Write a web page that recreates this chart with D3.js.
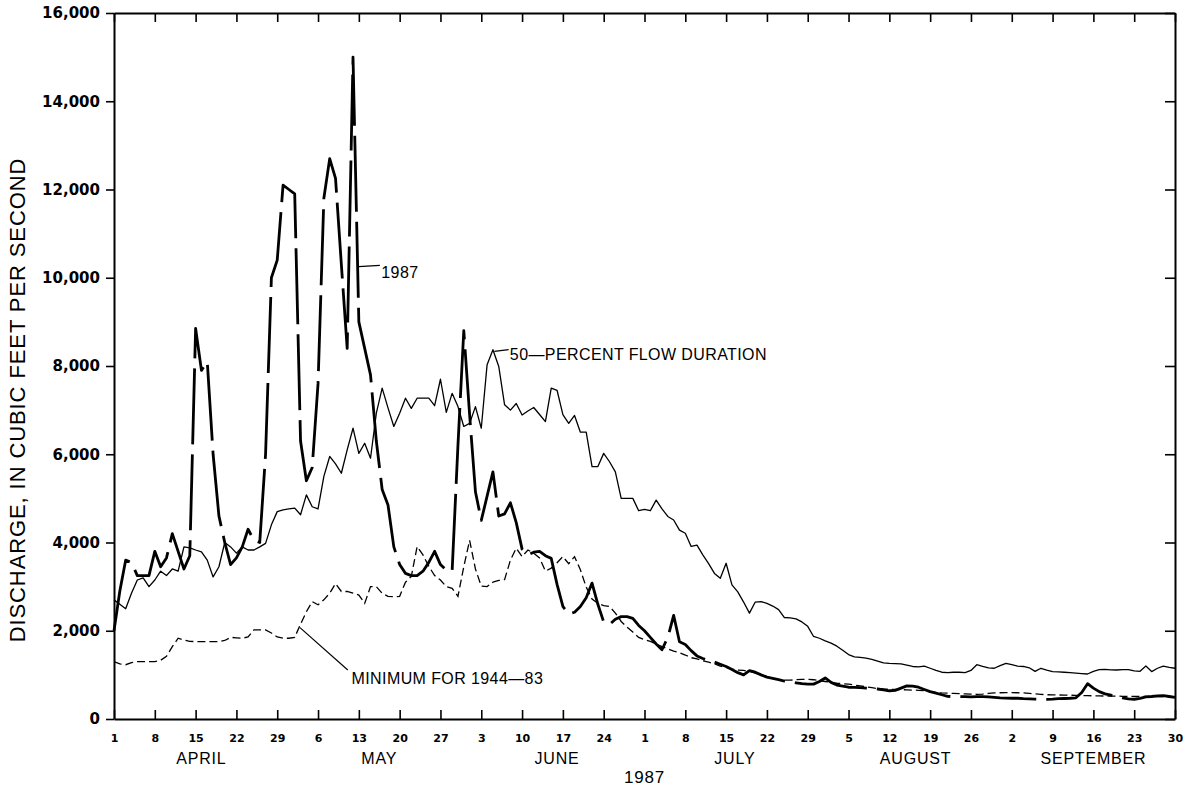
<!DOCTYPE html>
<html>
<head>
<meta charset="utf-8">
<script src="https://cdn.jsdelivr.net/npm/d3@7"></script>
<style>
  html, body { margin: 0; padding: 0; background: #fff; }
  svg { display: block; }
</style>
</head>
<body>
<svg id="chart" width="1192" height="790"></svg>
<script>
// Daily discharge, cubic feet per second, April 1 - September 30, 1987
const firstDay = "1987-04-01";
const lastDay = "1987-09-30";

// 1987 daily mean discharge
const flow1987 = [
  // April
  2000, 2900, 3600, 3550, 3250, 3250, 3250, 3800, 3450, 3650,
  4200, 3800, 3400, 3700, 8850, 7900, 8100, 6000, 4600, 4000,
  3500, 3650, 3900, 4300, 4050, 4000, 6000, 10000, 10400, 12100,
  // May
  12000, 11900, 6300, 5400, 5700, 7600, 11800, 12700, 12250, 10300,
  8400, 15000, 9000, 8400, 7800, 6300, 5200, 4850, 3900, 3500,
  3300, 3250, 3250, 3350, 3550, 3800, 3500, 3370, 3350, 6200, 8800,
  // June
  6900, 5150, 4500, 5050, 5600, 4600, 4650, 4900, 4450, 3850,
  3720, 3780, 3800, 3700, 3640, 3050, 2550, 2380, 2420, 2550,
  2750, 3080, 2600, 2200, 2140, 2260, 2320, 2320, 2280, 2120,
  // July
  2000, 1850, 1700, 1570, 1850, 2350, 1750, 1690, 1550, 1430,
  1370, 1320, 1290, 1240, 1190, 1120, 1050, 1000, 1095, 1060,
  1000, 950, 920, 890, 860, 840, 820, 800, 790, 790, 850,
  // August
  930, 830, 770, 745, 720, 715, 710, 700, 695, 680,
  660, 640, 650, 700, 750, 745, 720, 670, 620, 585,
  550, 515, 505, 505, 505, 500, 505, 505, 500, 490, 480,
  // September
  475, 470, 470, 460, 455, 450, 445, 445, 450, 460,
  465, 470, 480, 600, 800, 700, 620, 570, 540, 510,
  480, 455, 446, 470, 500, 510, 525, 530, 510, 490
];

// 50-percent flow duration
const flowMedian = [
  // April
  2700, 2600, 2500, 2850, 3150, 3200, 3000, 3150, 3350, 3250,
  3400, 3350, 3900, 3880, 3830, 3790, 3600, 3220, 3450, 4000,
  3900, 3760, 3900, 3830, 3830, 3900, 3980, 4400, 4700, 4740,
  // May
  4760, 4780, 4630, 5080, 4810, 4760, 5500, 5950, 5780, 5570,
  6100, 6590, 6020, 6250, 5910, 6930, 7500, 7050, 6630, 6930,
  7270, 7040, 7270, 7270, 7270, 7100, 7700, 6950, 7380, 7080, 6630,
  // June
  6700, 7080, 6590, 8030, 8370, 7990, 7120, 7000, 7150, 6890,
  6980, 7060, 6900, 6740, 7500, 7450, 6900, 6700, 6880, 6500,
  6500, 5720, 5720, 6020, 5830, 5600, 5000, 5000, 5000, 4720,
  // July
  4750, 4720, 4960, 4760, 4590, 4510, 4280, 4210, 3910, 3940,
  3720, 3520, 3300, 3190, 3530, 3040, 2880, 2650, 2400, 2650,
  2660, 2620, 2560, 2480, 2300, 2290, 2270, 2200, 2100, 1870, 1830,
  // August
  1770, 1720, 1650, 1560, 1460, 1410, 1395, 1380, 1350, 1310,
  1270, 1260, 1255, 1250, 1220, 1190, 1180, 1200, 1150, 1100,
  1060, 1050, 1060, 1060, 1050, 1100, 1230, 1190, 1160, 1150, 1210,
  // September
  1260, 1230, 1200, 1190, 1160, 1080, 1150, 1110, 1075, 1070,
  1060, 1050, 1040, 1030, 1020, 1080, 1120, 1125, 1115, 1110,
  1120, 1120, 1090, 1080, 1200, 1075, 1150, 1200, 1170, 1150
];

// Minimum daily discharge for 1944-83
const flowMinimum = [
  // April
  1300, 1250, 1230, 1280, 1300, 1300, 1300, 1300, 1330, 1420,
  1640, 1830, 1790, 1760, 1755, 1755, 1755, 1755, 1755, 1780,
  1850, 1840, 1830, 1860, 2020, 2020, 2020, 1950, 1860, 1830,
  // May
  1830, 1850, 2150, 2430, 2660, 2590, 2700, 2850, 3070, 2890,
  2890, 2850, 2810, 2620, 3000, 3000, 2850, 2780, 2770, 2780,
  3100, 3230, 3910, 3720, 3460, 3250, 3150, 3000, 2960, 2780, 3450,
  // June
  4050, 3400, 3010, 3000, 3100, 3140, 3160, 3600, 3870, 3680,
  3830, 3760, 3650, 3350, 3420, 3540, 3680, 3520, 3680, 3380,
  2990, 2720, 2620, 2570, 2550, 2400, 2210, 2080, 1970, 1850,
  // July
  1800, 1760, 1700, 1640, 1590, 1540, 1500, 1450, 1390, 1360,
  1320, 1290, 1250, 1200, 1170, 1130, 1110, 1100, 1080, 1040,
  1000, 960, 920, 890, 880, 880, 890, 900, 900, 890, 870,
  // August
  850, 830, 810, 800, 790, 770, 750, 730, 710, 690,
  680, 675, 670, 665, 660, 655, 650, 640, 620, 600,
  590, 585, 580, 575, 570, 565, 560, 565, 580, 590, 595,
  // September
  600, 600, 595, 590, 580, 570, 560, 550, 545, 545,
  540, 540, 535, 530, 530, 525, 525, 520, 520, 520,
  515, 515, 510, 510, 510, 505, 505, 505, 505, 505
];

// Axis ticks and labels
const yTickValues = [0, 2000, 4000, 6000, 8000, 10000, 12000, 14000, 16000];
const xTickDates = [
  "1987-04-01", "1987-04-08", "1987-04-15", "1987-04-22", "1987-04-29",
  "1987-05-06", "1987-05-13", "1987-05-20", "1987-05-27",
  "1987-06-03", "1987-06-10", "1987-06-17", "1987-06-24",
  "1987-07-01", "1987-07-08", "1987-07-15", "1987-07-22", "1987-07-29",
  "1987-08-05", "1987-08-12", "1987-08-19", "1987-08-26",
  "1987-09-02", "1987-09-09", "1987-09-16", "1987-09-23", "1987-09-30"
];
const xTickLabels = [
  "1", "8", "15", "22", "29", "6", "13", "20", "27", "3", "10", "17", "24",
  "1", "8", "15", "22", "29", "5", "12", "19", "26", "2", "9", "16", "23", "30"
];
const monthStarts = ["1987-04-01", "1987-05-01", "1987-06-01", "1987-07-01", "1987-08-01", "1987-09-01", "1987-10-01"];
const monthNames = ["APRIL", "MAY", "JUNE", "JULY", "AUGUST", "SEPTEMBER"];
const yearLabel = "1987";
const yTitle = "DISCHARGE, IN CUBIC FEET PER SECOND";

// Curve labels: leader line from a point on the curve (day offset, cfs) to the label
const curveLabels = [
  { text: "1987", from: [41.95, 10250], to: [45.6, 10280], at: [45.85, 10000] },
  { text: "50\u2014PERCENT FLOW DURATION", from: [65.25, 8330], to: [67.7, 8370], at: [67.9, 8140] },
  { text: "MINIMUM FOR 1944\u201483", from: [31.9, 2070], to: [40.1, 1110], at: [40.75, 790] }
];

// ---------------------------------------------------------------------------
const parse = d3.utcParse("%Y-%m-%d");
const start = parse(firstDay);
const dayDate = i => d3.utcDay.offset(start, i);
const dayPos = d => new Date(start.getTime() + d * 864e5);

const svg = d3.select("#chart");
const margin = { left: 114, right: 1175, top: 13, bottom: 719 };

const x = d3.scaleUtc()
  .domain([start, parse(lastDay)])
  .range([margin.left, margin.right]);
const y = d3.scaleLinear()
  .domain([0, 16000])
  .range([margin.bottom, margin.top]);

const tickDates = xTickDates.map(parse);
const labelFor = new Map(tickDates.map((d, i) => [+d, xTickLabels[i]]));

// Frame and ticks
const axisStyle = g => {
  g.select(".domain").attr("stroke", "#000").attr("stroke-width", 2);
  g.selectAll(".tick line").attr("stroke", "#000").attr("stroke-width", 1.6);
};

svg.append("g")
  .attr("transform", `translate(0,${margin.bottom})`)
  .call(d3.axisBottom(x).tickValues(tickDates).tickSize(-9).tickSizeOuter(0)
    .tickPadding(15).tickFormat(d => labelFor.get(+d)))
  .call(axisStyle)
  .call(g => g.selectAll(".tick text")
    .attr("font-family", "'DejaVu Sans', sans-serif")
    .attr("font-weight", "bold")
    .attr("font-size", 11)
    .attr("fill", "#000"));

svg.append("g")
  .attr("transform", `translate(0,${margin.top})`)
  .call(d3.axisTop(x).tickValues(tickDates).tickSize(-9).tickSizeOuter(0).tickFormat(""))
  .call(axisStyle);

svg.append("g")
  .attr("transform", `translate(${margin.left},0)`)
  .call(d3.axisLeft(y).tickValues(yTickValues).tickSize(8).tickSizeOuter(0)
    .tickPadding(6).tickFormat(d3.format(",")))
  .call(axisStyle)
  .call(g => g.selectAll(".tick text")
    .attr("font-family", "'DejaVu Sans', sans-serif")
    .attr("font-weight", "bold")
    .attr("font-size", 15)
    .attr("fill", "#000"));

svg.append("g")
  .attr("transform", `translate(${margin.right},0)`)
  .call(d3.axisRight(y).tickValues(yTickValues).tickSize(-10).tickSizeOuter(0).tickFormat(""))
  .call(axisStyle);

// Month names centred under each month, and the year
const monthDates = monthStarts.map(parse);
svg.append("g")
  .selectAll("text")
  .data(monthNames)
  .join("text")
  .attr("x", (m, i) => (x(monthDates[i]) + x(monthDates[i + 1])) / 2)
  .attr("y", 764)
  .attr("text-anchor", "middle")
  .attr("font-family", "'Liberation Sans', Arial, sans-serif")
  .attr("font-size", 16)
  .attr("letter-spacing", 0.8)
  .text(m => m);

svg.append("text")
  .attr("x", x(dayPos(91)))
  .attr("y", 783)
  .attr("text-anchor", "middle")
  .attr("font-family", "'Liberation Sans', Arial, sans-serif")
  .attr("font-size", 17)
  .attr("letter-spacing", 0.8)
  .text(yearLabel);

svg.append("text")
  .attr("transform", "translate(25,400) rotate(-90)")
  .attr("text-anchor", "middle")
  .attr("font-family", "'Liberation Sans', Arial, sans-serif")
  .attr("font-size", 22)
  .attr("letter-spacing", 0.9)
  .text(yTitle);

// Series
const toPoints = arr => arr.map((v, i) => ({ date: dayDate(i), value: v }));
const line = d3.line().x(d => x(d.date)).y(d => y(d.value));

const plot = svg.append("g").attr("fill", "none").attr("stroke", "#000");

plot.append("path")
  .datum(toPoints(flowMinimum))
  .attr("d", line)
  .attr("stroke-width", 1.3)
  .attr("stroke-dasharray", "8 4");

plot.append("path")
  .datum(toPoints(flowMedian))
  .attr("d", line)
  .attr("stroke-width", 1.3)
  .attr("stroke-linejoin", "round");

plot.append("path")
  .datum(toPoints(flow1987))
  .attr("d", line)
  .attr("stroke-width", 2.8)
  .attr("stroke-linejoin", "round")
  .attr("stroke-dasharray", "76 10");

// Curve labels with leader lines
const lab = svg.append("g");
curveLabels.forEach(c => {
  lab.append("line")
    .attr("x1", x(dayPos(c.from[0]))).attr("y1", y(c.from[1]))
    .attr("x2", x(dayPos(c.to[0]))).attr("y2", y(c.to[1]))
    .attr("stroke", "#000").attr("stroke-width", 1.2);
  lab.append("text")
    .attr("x", x(dayPos(c.at[0])))
    .attr("y", y(c.at[1]))
    .attr("font-family", "'Liberation Sans', Arial, sans-serif")
    .attr("font-size", 16)
    .attr("letter-spacing", 0.4)
    .text(c.text);
});
</script>
</body>
</html>
